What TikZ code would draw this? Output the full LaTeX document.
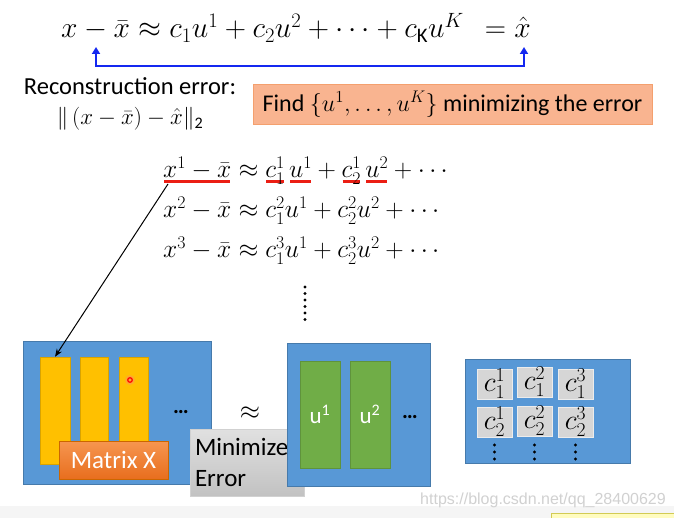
\RequirePackage{fix-cm}
\documentclass[tikz,border=0pt]{standalone}
\usepackage{amsmath}
\usepackage{fontspec}
\setmainfont{Carlito}
\newfontfamily\wmfont{Liberation Sans}
\usetikzlibrary{arrows.meta}
\definecolor{bgblue}{RGB}{88,152,214}
\definecolor{baryellow}{RGB}{255,192,0}
\definecolor{bargreen}{RGB}{112,173,71}
\definecolor{findfill}{RGB}{249,180,144}
\definecolor{finddraw}{RGB}{244,160,110}
\definecolor{arrowblue}{RGB}{20,40,240}
\definecolor{ulred}{RGB}{235,30,20}
\newcommand\redul[1]{\mbox{\setbox0\hbox{$#1$}\rlap{\kern1pt\textcolor{ulred}{\rule[-5pt]{\dimexpr\wd0-2pt\relax}{2.6pt}}}\box0}}
\tikzset{
  bluebox/.style={draw=bgblue!80!black, fill=bgblue, line width=0.6pt, inner sep=0pt},
  ybar/.style={draw=baryellow!85!black, fill=baryellow, line width=0.4pt, inner sep=0pt, minimum height=107pt},
  gbar/.style={draw=bargreen!85!black, fill=bargreen, line width=0.4pt, inner sep=0pt, minimum height=107pt, minimum width=40pt, text=white, font=\fontsize{23}{26}\selectfont},
  cell/.style={draw=white!85!gray, fill=black!16, line width=0.6pt, inner sep=0pt, minimum width=35pt, minimum height=30pt, font=\fontsize{28}{30}\selectfont},
  graybox/.style={draw=black!18, top color=black!12, bottom color=black!24, inner sep=4pt},
  eqline/.style={anchor=base west, inner sep=0pt, font=\fontsize{25.5}{30}\selectfont},
  dotstext/.style={font=\bfseries\fontsize{22}{24}\selectfont, inner sep=0pt},
}
\begin{document}
\begin{tikzpicture}[x=1pt,y=-1pt]
\useasboundingbox (0,0) rectangle (674,518);
\fill[white] (0,0) rectangle (674,518);
\fill[black!4] (0,506) rectangle (674,518);
\node[draw=yellow!60!gray, fill=yellow!25, minimum width=130pt, minimum height=12pt, anchor=north west, inner sep=0pt] (tipbox) at (551,513) {};

% top equation
\node[anchor=base west, inner sep=0pt, font=\fontsize{29.5}{34}\selectfont] (topeq) at (61,38)
  {$x-\bar{x}\approx c_1u^1+c_2u^2+\cdots+c_{\mathrm{K}}u^K$};
\node[anchor=base east, inner sep=0pt, font=\fontsize{29.5}{34}\selectfont] (topeqr) at (531,38)
  {$=\hat{x}$};
\coordinate (tipL) at (96,47);
\coordinate (cL) at (96,66);
\coordinate (cR) at (524,66);
\coordinate (tipR) at (524,47);
\draw[arrowblue, line width=2.4pt, {Triangle[length=7pt,width=8pt]}-{Triangle[length=7pt,width=8pt]}] (tipL) -- (cL) -- (cR) -- (tipR);

% reconstruction error
\node[anchor=base, inner sep=0pt, font=\fontsize{24.5}{28}\selectfont] (rec) at (130,95) {Reconstruction error:};
\node[anchor=base, inner sep=0pt, font=\fontsize{23}{28}\selectfont] (norm) at (130,125) {$\|\,(x-\bar{x})-\hat{x}\|_{\text{2}}$};

% find box
\node[draw=finddraw, fill=findfill, line width=0.8pt, minimum width=399pt, minimum height=40pt, inner sep=0pt, font=\fontsize{24}{28}\selectfont] (find) at (452.5,104)
  {Find $\{u^1,\ldots,u^K\}$ minimizing the error};

% equation lines
\node[eqline] (eq1) at (163,178) {$\redul{x^1-\bar{x}}\approx\redul{c_1^1}\,\redul{u^1}+\redul{c_2^1}\,\redul{u^2}+\cdots$};
\node[eqline] (eq2) at (163,218) {$x^2-\bar{x}\approx c_1^2u^1+c_2^2u^2+\cdots$};
\node[eqline] (eq3) at (163,258) {$x^3-\bar{x}\approx c_1^3u^1+c_2^3u^2+\cdots$};
\foreach \yy in {287,293.5,300,306.5,313,319.5} \fill (305,\yy) circle (1.6pt);

% matrix X
\node[bluebox, minimum width=188pt, minimum height=143pt] (xbox) at (117,412.5) {};
\node[ybar, minimum width=30pt] (bar1) at (55,410.5) {};
\node[ybar, minimum width=28pt] (bar2) at (94,410.5) {};
\node[ybar, minimum width=29pt] (bar3) at (133.5,410.5) {};
\fill[red!50, opacity=0.35] (130,380) circle (5pt);
\draw[red, line width=1.2pt] (130,380) circle (2.3pt);
\node[dotstext] (xdots) at (181,412) {…};
\node[draw=orange!80!black, top color={rgb,255:red,246;green,150;blue,80}, bottom color={rgb,255:red,232;green,110;blue,30}, minimum width=109pt, minimum height=38pt, inner sep=0pt, text=white, font=\fontsize{25}{28}\selectfont] (mx) at (113.5,460) {Matrix X};

\node[font=\fontsize{26}{30}\selectfont] (approx) at (250,413) {$\approx$};
\node[graybox, minimum width=114pt, minimum height=67pt, align=left, text width=104pt, font=\fontsize{25}{31}\selectfont] (minerr) at (247,462.5) {Minimize\\Error};

% u matrix
\node[bluebox, minimum width=143pt, minimum height=143pt] (ubox) at (358.5,414.5) {};
\node[gbar] (g1) at (320,414.5) {u\textsuperscript{1}};
\node[gbar] (g2) at (370,414.5) {u\textsuperscript{2}};
\node[dotstext] (udots) at (410,417) {…};

% c matrix
\node[bluebox, minimum width=165pt, minimum height=104pt] (cbox) at (547.5,411) {};
\node[cell] (c11) at (494.5,384) {$c_1^1$};
\node[cell] (c12) at (534.5,382) {$c_1^2$};
\node[cell] (c13) at (575.5,384) {$c_1^3$};
\node[cell] (c21) at (494.5,422) {$c_2^1$};
\node[cell] (c22) at (534.5,421) {$c_2^2$};
\node[cell] (c23) at (575.5,422) {$c_2^3$};
\foreach \xx in {494.5,534.5,575.5} \foreach \yy in {445,452,459} \fill (\xx,\yy) circle (1.7pt);

% arrow from first equation to first column
\coordinate (ulstart) at (168,184);
\draw[black, line width=1pt, -{Stealth[length=8pt,width=6pt]}] (ulstart) -- (bar1.north);

% watermark
\node[text=black!18, font=\wmfont\fontsize{16}{18}\selectfont, inner sep=0pt] (wm) at (543,500) {https://blog.csdn.net/qq\_28400629};
\end{tikzpicture}
\end{document}
